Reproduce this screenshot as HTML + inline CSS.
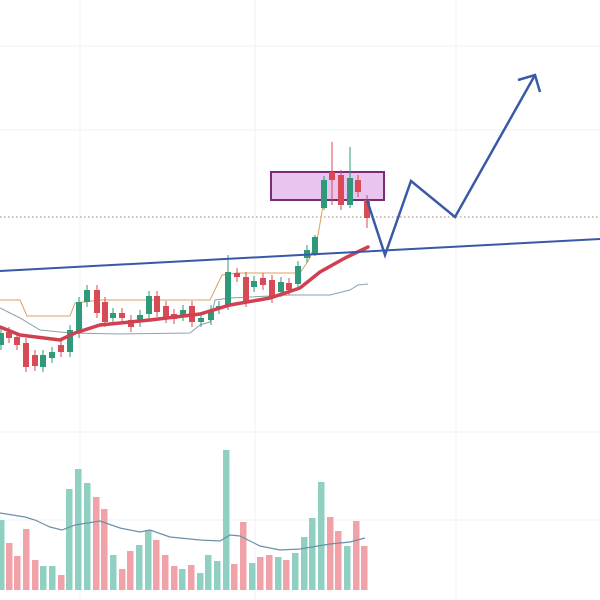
<!DOCTYPE html>
<html><head><meta charset="utf-8"><style>html,body{margin:0;padding:0;background:#fff}svg{display:block}</style></head>
<body>
<svg id="s" width="600" height="600" xmlns="http://www.w3.org/2000/svg">
<rect width="600" height="600" fill="#fff"/>
<g stroke="#eef0f3" stroke-width="1">
<line x1="80" y1="0" x2="80" y2="600"/><line x1="255" y1="0" x2="255" y2="600"/><line x1="456" y1="0" x2="456" y2="600"/>
<line x1="0" y1="46" x2="600" y2="46"/><line x1="0" y1="130" x2="600" y2="130"/><line x1="0" y1="432" x2="600" y2="432"/><line x1="0" y1="520" x2="600" y2="520"/>
</g>
<line x1="0" y1="217" x2="600" y2="217" stroke="#a08070" stroke-width="1" stroke-dasharray="1.5,2.5"/>
<g id="vol"></g>
<polyline fill="none" stroke="#6a90a8" stroke-width="1.2" points="0,513 25,517 35,520 50,527 62,530 75,525 100,521 120,528 140,532 150,530 170,537 200,540 220,541 230,535 240,536 260,546 280,550 300,549 330,544 350,542 365,538"/>
<polyline fill="none" stroke="#d9a060" stroke-width="1" points="0,300 20,300 27,316 70,316 75,303 100,300 210,300 222,275 237,273 300,273 310,258 318,235 322,212 326,182"/>
<polyline fill="none" stroke="#8aa0b0" stroke-width="1" points="0,308 20,318 40,330 70,333 120,334 190,333 200,325 210,322 215,300 230,298 290,295 330,295 350,290 358,285 368,284"/>
<rect x="271" y="172" width="113" height="28" fill="#e8c4ee" stroke="#7a2a7a" stroke-width="2"/>
<g id="c"></g>
<polyline fill="none" stroke="#d04050" stroke-width="3.5" stroke-linecap="round" points="0,327 20,335 60,340 75,333 100,325 150,320 200,314 230,305 270,298 300,288 320,272 345,258 368,247"/>
<line x1="0" y1="271" x2="600" y2="239" stroke="#3a58a8" stroke-width="2"/>
<polyline fill="none" stroke="#3a5aa8" stroke-width="2.5" stroke-linejoin="miter" points="367,200 385,255 411,181 455,217 535,75"/>
<polyline fill="none" stroke="#3a5aa8" stroke-width="2.5" points="518,80 535,75 540,92"/>
</svg>
<script>
var G='#2e9a7a',R='#d84a55',GV='#8fd0c2',RV='#f0a2a8';
var vol=[[1,520,0],[9,543,1],[17,556,1],[26,529,1],[35,560,1],[43,566,0],[52,566,0],[61,575,1],[69,489,0],[78,469,0],[87,483,0],[96,497,1],[104,509,1],[113,555,0],[122,569,1],[130,551,1],[139,545,0],[148,530,0],[156,540,1],[165,555,1],[174,566,1],[182,569,0],[191,565,1],[200,573,0],[208,555,0],[217,561,0],[226,450,0],[234,564,1],[243,522,1],[252,563,0],[260,557,1],[269,555,1],[278,557,0],[286,560,1],[295,553,0],[304,537,0],[312,518,0],[321,482,0],[330,517,1],[338,531,1],[347,546,0],[356,521,1],[364,546,1]];
var c=[[1,333,345,0],[9,332,338,1],[17,337,345,1],[26,343,367,1],[35,355,366,1],[43,355,367,0],[52,352,358,0],[61,345,352,1],[70,330,352,0],[79,302,333,0],[87,290,302,0],[97,290,313,1],[105,302,322,1],[113,313,318,0],[122,313,318,1],[131,320,327,1],[140,315,322,0],[149,296,314,0],[157,296,312,1],[166,306,318,1],[174,314,319,1],[183,310,316,0],[192,306,322,1],[201,318,322,0],[211,310,320,0],[219,306,309,0],[228,272,306,0],[237,273,277,1],[246,277,302,1],[254,281,287,0],[263,278,285,1],[272,280,298,1],[281,282,292,0],[289,283,290,1],[298,266,284,0],[307,250,258,0],[315,237,255,0],[324,180,208,0],[332,172,180,1],[341,175,205,1],[350,178,205,0],[358,180,192,1],[367,200,218,1]];
var h='';
vol.forEach(function(v){h+='<rect x="'+(v[0]-3)+'" y="'+v[1]+'" width="6.5" height="'+(590-v[1])+'" fill="'+(v[2]?RV:GV)+'"/>';});
document.getElementById('vol').innerHTML=h;
h='';
var wk={26:[255,310],38:[142,205],40:[147,208],42:[195,228],37:[176,210],36:[235,256]};
c.forEach(function(k,i){var col=k[3]?R:G;var w=wk[i]||[k[1]-5,k[2]+5];
h+='<line x1="'+k[0]+'" y1="'+w[0]+'" x2="'+k[0]+'" y2="'+w[1]+'" stroke="'+col+'" stroke-width="1"/>';
h+='<rect x="'+(k[0]-3)+'" y="'+k[1]+'" width="6" height="'+Math.max(2,k[2]-k[1])+'" fill="'+col+'"/>';});
document.getElementById('c').innerHTML=h;
</script>
</body></html>
